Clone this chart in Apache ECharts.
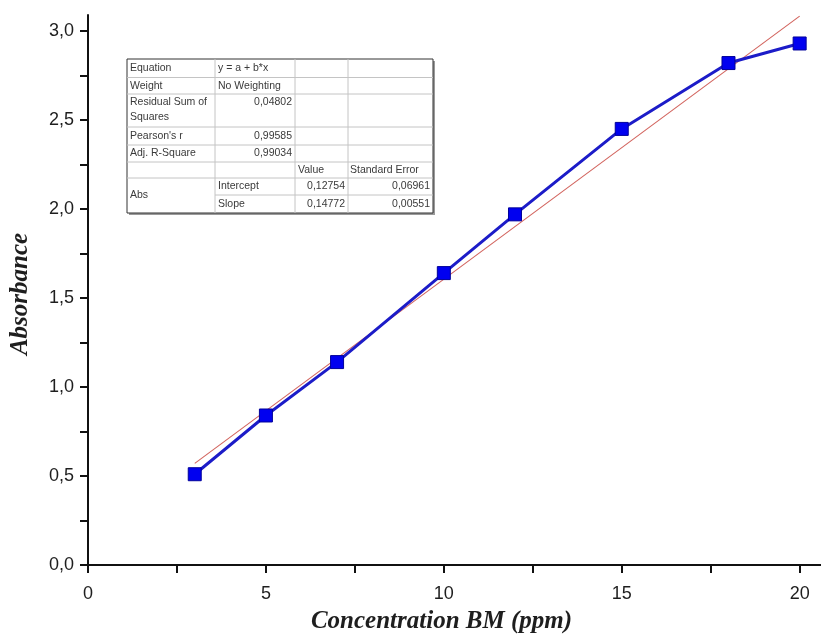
<!DOCTYPE html>
<html>
<head>
<meta charset="utf-8">
<script src="https://cdn.jsdelivr.net/npm/echarts@6/dist/echarts.min.js"></script>
<style>
html,body{margin:0;padding:0;background:#fff;}
#chart{width:821px;height:634px;}
</style>
</head>
<body>
<div id="chart"></div>
<script>
// ---- data ----
var concentration = [3, 5, 7, 10, 12, 15, 18, 20];
var absorbance = [0.51, 0.84, 1.14, 1.64, 1.97, 2.45, 2.82, 2.93];
var fitX = [3, 20];
var fitY = [0.571, 3.084];
var xTicks = [0, 2.5, 5, 7.5, 10, 12.5, 15, 17.5, 20];
var xLabels = [0, 5, 10, 15, 20];
var yTicks = [0, 0.25, 0.5, 0.75, 1, 1.25, 1.5, 1.75, 2, 2.25, 2.5, 2.75, 3];
var yLabels = [0, 0.5, 1, 1.5, 2, 2.5, 3];
// fit-report table text
var tableLabels = ['Equation', 'Weight', 'Residual Sum of', 'Squares', "Pearson's r", 'Adj. R-Square', 'Abs'];
var tableInfo = ['y = a + b*x', 'No Weighting', '0,04802', '0,99585', '0,99034'];
var tableHeads = ['Value', 'Standard Error'];
var tableParams = ['Intercept', 'Slope'];
var tableValues = ['0,12754', '0,14772'];
var tableErrors = ['0,06961', '0,00551'];

var pts = concentration.map(function (x, i) { return [x, absorbance[i]]; });
var fit = fitX.map(function (x, i) { return [x, fitY[i]]; });
function fmt(v) { return v.toFixed(1).replace('.', ','); }

// table graphic
var TX = [127, 215, 295, 348, 433];
var TY = [59, 77.5, 94, 127, 145, 162, 178, 195, 213];
var g = [];
g.push({type: 'rect', shape: {x: 129, y: 61, width: TX[4] - TX[0], height: TY[8] - TY[0]}, style: {fill: '#9a9a9a'}, z: 10});
g.push({type: 'rect', shape: {x: TX[0], y: TY[0], width: TX[4] - TX[0], height: TY[8] - TY[0]}, style: {fill: '#fff', stroke: '#333', lineWidth: 1}, z: 11});
[1, 2, 3].forEach(function (c) {
  g.push({type: 'line', shape: {x1: TX[c], y1: TY[0], x2: TX[c], y2: TY[8]}, style: {stroke: '#c4c4c4', lineWidth: 1}, z: 12});
});
[1, 2, 3, 4, 5, 6].forEach(function (r) {
  g.push({type: 'line', shape: {x1: TX[0], y1: TY[r], x2: TX[4], y2: TY[r]}, style: {stroke: '#c4c4c4', lineWidth: 1}, z: 12});
});
g.push({type: 'line', shape: {x1: TX[1], y1: TY[7], x2: TX[4], y2: TY[7]}, style: {stroke: '#c4c4c4', lineWidth: 1}, z: 12});
function txt(s, x, y, align) {
  g.push({type: 'text', x: x, y: y, z: 13, style: {text: s, fill: '#3a3a3a', font: '10.5px "Liberation Sans", Arial, sans-serif', align: align || 'left', verticalAlign: 'middle'}});
}
function mid(r) { return (TY[r] + TY[r + 1]) / 2; }
txt(tableLabels[0], 130, mid(0));
txt(tableLabels[1], 130, mid(1));
txt(tableLabels[2], 130, 102);
txt(tableLabels[3], 130, 117);
txt(tableLabels[4], 130, mid(3));
txt(tableLabels[5], 130, mid(4));
txt(tableLabels[6], 130, TY[7]);
txt(tableInfo[0], 218, mid(0));
txt(tableInfo[1], 218, mid(1));
txt(tableInfo[2], 292, 102, 'right');
txt(tableInfo[3], 292, mid(3), 'right');
txt(tableInfo[4], 292, mid(4), 'right');
txt(tableHeads[0], 298, mid(5));
txt(tableHeads[1], 350, mid(5));
txt(tableParams[0], 218, mid(6));
txt(tableParams[1], 218, mid(7));
txt(tableValues[0], 345, mid(6), 'right');
txt(tableValues[1], 345, mid(7), 'right');
txt(tableErrors[0], 430, mid(6), 'right');
txt(tableErrors[1], 430, mid(7), 'right');

var axisFont = {fontFamily: '"Liberation Sans", Arial, sans-serif', fontSize: 18, color: '#1e1e1e'};
var titleBase = {fontFamily: '"Liberation Serif", "Times New Roman", serif', fontSize: 25, fontStyle: 'italic', fontWeight: 'bold', color: '#1e1e1e'};

var chart = echarts.init(document.getElementById('chart'));
chart.setOption({
  animation: false,
  backgroundColor: '#fff',
  grid: {left: 88, right: 0, top: 15, bottom: 69, containLabel: false, outerBoundsMode: 'none'},
  xAxis: {
    type: 'value', min: 0, max: 20.6,
    name: 'Concentration BM (ppm)', nameLocation: 'middle', nameGap: 44,
    nameTextStyle: Object.assign({padding: [0, 26, 0, 0]}, titleBase),
    axisLine: {onZero: false, lineStyle: {color: '#111', width: 2}},
    axisTick: {customValues: xTicks, length: 8, inside: false, lineStyle: {color: '#111', width: 2}},
    axisLabel: Object.assign({customValues: xLabels, margin: 20, formatter: function (v) { return String(v); }}, axisFont),
    splitLine: {show: false}
  },
  yAxis: {
    type: 'value', min: 0, max: 3.09,
    name: 'Absorbance', nameLocation: 'middle', nameGap: 55, nameRotate: 90,
    nameTextStyle: Object.assign({padding: [0, 8, 0, 0]}, titleBase),
    axisLine: {onZero: false, lineStyle: {color: '#111', width: 2}},
    axisTick: {customValues: yTicks, length: 8, inside: false, lineStyle: {color: '#111', width: 2}},
    axisLabel: Object.assign({customValues: yLabels, margin: 14, formatter: fmt}, axisFont),
    splitLine: {show: false}
  },
  series: [
    {
      type: 'line', data: fit, symbol: 'none', silent: true, z: 3,
      lineStyle: {color: '#d2645e', width: 1.1}
    },
    {
      type: 'line', data: pts, symbol: 'rect', symbolSize: 13, z: 4,
      lineStyle: {color: '#1c1cc8', width: 3},
      itemStyle: {color: '#0000f0', borderColor: '#00009a', borderWidth: 1}
    }
  ],
  graphic: g
});
</script>
</body>
</html>
